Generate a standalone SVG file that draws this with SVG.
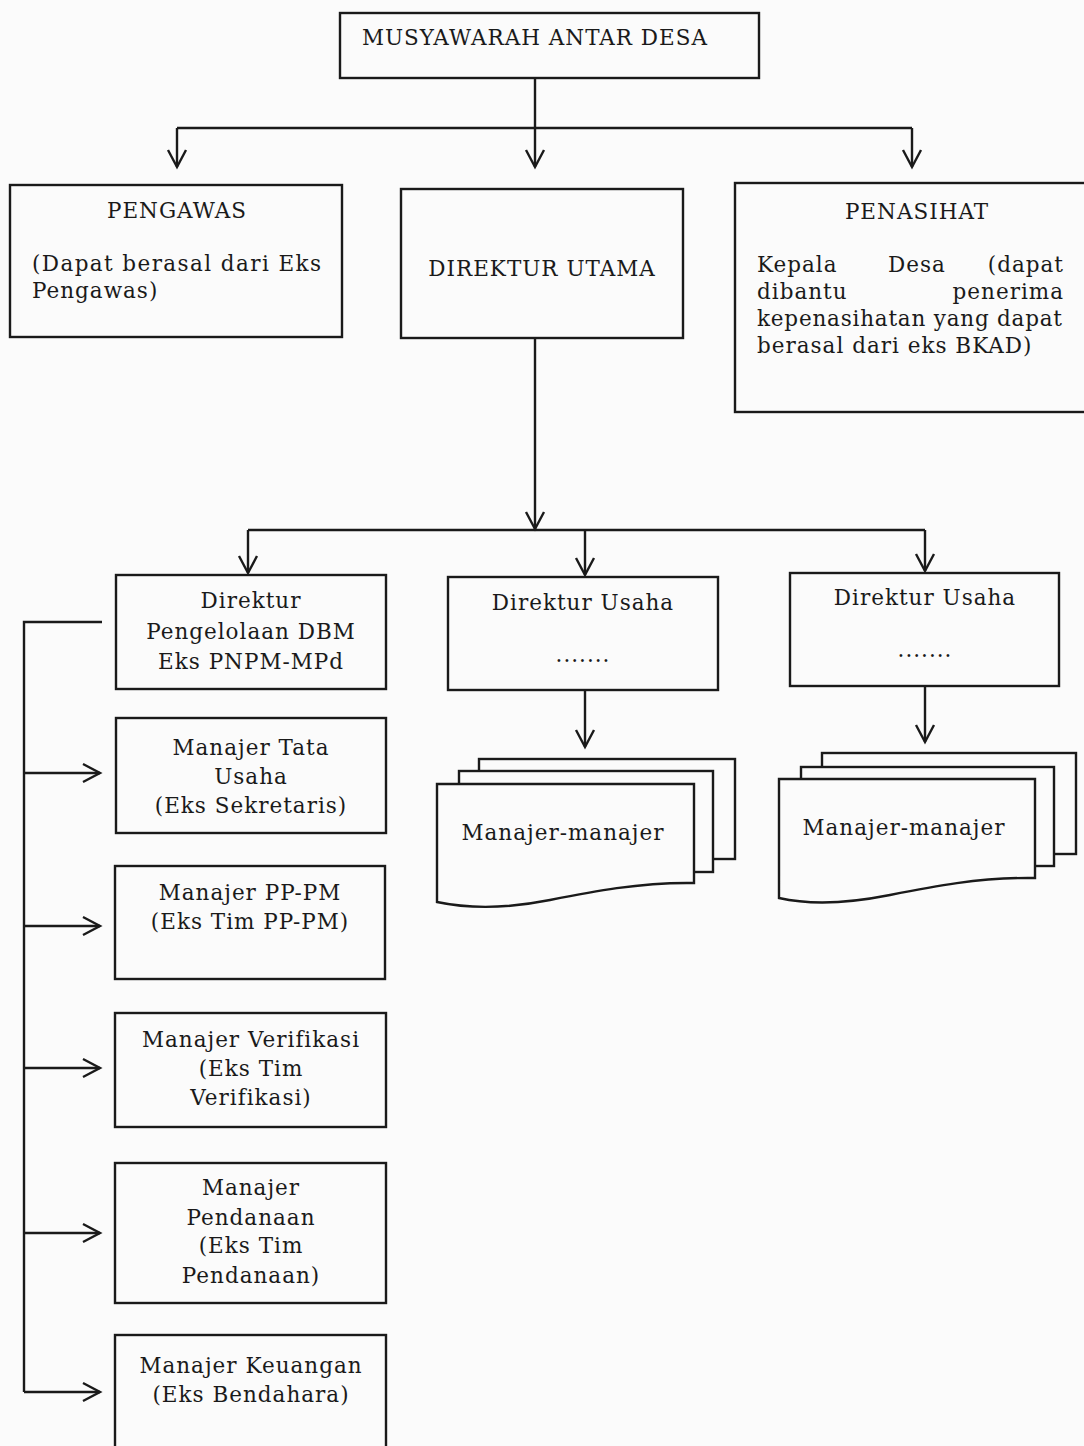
<svg xmlns="http://www.w3.org/2000/svg" width="1084" height="1446" viewBox="0 0 1084 1446">
<defs>
<style>
.box{fill:#fbfbfb;stroke:#1a1a1a;stroke-width:2.4}
.ln{fill:none;stroke:#1a1a1a;stroke-width:2.4}
text{font-family:"DejaVu Serif","Liberation Serif",serif;font-size:21.5px;fill:#1a1a1a;letter-spacing:1px}
.c{text-anchor:middle}
.e{text-anchor:end}
</style>
<marker id="ah" markerUnits="userSpaceOnUse" markerWidth="40" markerHeight="40" viewBox="-20 -20 40 40" refX="0" refY="0" orient="auto" overflow="visible">
<path d="M-17,-9 L0,0 L-17,9" fill="none" stroke="#1a1a1a" stroke-width="2.4"/>
</marker>
</defs>
<rect width="1084" height="1446" fill="#fbfbfb"/>

<g id="connectors">
<path class="ln" d="M535,78 V167" marker-end="url(#ah)"/>
<path class="ln" d="M177,128 H912"/>
<path class="ln" d="M177,128 V167" marker-end="url(#ah)"/>
<path class="ln" d="M912,128 V167" marker-end="url(#ah)"/>
<path class="ln" d="M535,338 V529" marker-end="url(#ah)"/>
<path class="ln" d="M248,530 H925"/>
<path class="ln" d="M248,530 V573" marker-end="url(#ah)"/>
<path class="ln" d="M585,530 V575" marker-end="url(#ah)"/>
<path class="ln" d="M925,530 V571" marker-end="url(#ah)"/>
<path class="ln" d="M585,690 V747" marker-end="url(#ah)"/>
<path class="ln" d="M925,686 V742" marker-end="url(#ah)"/>
<path class="ln" d="M102,622 H24 V1392"/>
<path class="ln" d="M24,773 H100" marker-end="url(#ah)"/>
<path class="ln" d="M24,926 H100" marker-end="url(#ah)"/>
<path class="ln" d="M24,1068 H100" marker-end="url(#ah)"/>
<path class="ln" d="M24,1233 H100" marker-end="url(#ah)"/>
<path class="ln" d="M24,1392 H100" marker-end="url(#ah)"/>
</g>

<g id="musyawarah">
<rect class="box" x="340" y="13" width="419" height="65"/>
<text class="c" x="535" y="45">MUSYAWARAH ANTAR DESA</text>
</g>

<g id="pengawas">
<rect class="box" x="10" y="185" width="332" height="152"/>
<text class="c" x="177" y="218">PENGAWAS</text>
<text x="32" y="271" textLength="290" lengthAdjust="spacing">(Dapat berasal dari Eks</text>
<text x="32" y="298">Pengawas)</text>
</g>

<g id="direktur-utama">
<rect class="box" x="401" y="189" width="282" height="149"/>
<text class="c" x="542" y="276">DIREKTUR UTAMA</text>
</g>

<g id="penasihat">
<rect class="box" x="735" y="183" width="360" height="229"/>
<text class="c" x="917" y="219">PENASIHAT</text>
<text x="757" y="272">Kepala</text>
<text x="888" y="272">Desa</text>
<text class="e" x="1064" y="272">(dapat</text>
<text x="757" y="299">dibantu</text>
<text class="e" x="1064" y="299">penerima</text>
<text x="757" y="326" textLength="306" lengthAdjust="spacing">kepenasihatan yang dapat</text>
<text x="757" y="353">berasal dari eks BKAD)</text>
</g>

<g id="direktur-dbm">
<rect class="box" x="116" y="575" width="270" height="114"/>
<text class="c" x="251" y="608">Direktur</text>
<text class="c" x="251" y="639">Pengelolaan DBM</text>
<text class="c" x="251" y="669">Eks PNPM-MPd</text>
</g>

<g id="manajer-tata-usaha">
<rect class="box" x="116" y="718" width="270" height="115"/>
<text class="c" x="251" y="755">Manajer Tata</text>
<text class="c" x="251" y="784">Usaha</text>
<text class="c" x="251" y="813">(Eks Sekretaris)</text>
</g>

<g id="manajer-pp-pm">
<rect class="box" x="115" y="866" width="270" height="113"/>
<text class="c" x="250" y="900">Manajer PP-PM</text>
<text class="c" x="250" y="929">(Eks Tim PP-PM)</text>
</g>

<g id="manajer-verifikasi">
<rect class="box" x="115" y="1013" width="271" height="114"/>
<text class="c" x="251" y="1047">Manajer Verifikasi</text>
<text class="c" x="251" y="1076">(Eks Tim</text>
<text class="c" x="251" y="1105">Verifikasi)</text>
</g>

<g id="manajer-pendanaan">
<rect class="box" x="115" y="1163" width="271" height="140"/>
<text class="c" x="251" y="1195">Manajer</text>
<text class="c" x="251" y="1225">Pendanaan</text>
<text class="c" x="251" y="1253">(Eks Tim</text>
<text class="c" x="251" y="1283">Pendanaan)</text>
</g>

<g id="manajer-keuangan">
<rect class="box" x="115" y="1335" width="271" height="130"/>
<text class="c" x="251" y="1373">Manajer Keuangan</text>
<text class="c" x="251" y="1402">(Eks Bendahara)</text>
</g>

<g id="direktur-usaha-1">
<rect class="box" x="448" y="577" width="270" height="113"/>
<text class="c" x="583" y="610">Direktur Usaha</text>
<text class="c" x="583" y="662">.......</text>
</g>

<g id="direktur-usaha-2">
<rect class="box" x="790" y="573" width="269" height="113"/>
<text class="c" x="925" y="605">Direktur Usaha</text>
<text class="c" x="925" y="657">.......</text>
</g>

<g id="manajer-manajer-1">
<rect class="box" x="479" y="759" width="256" height="100"/>
<rect class="box" x="459" y="771" width="254" height="101"/>
<path class="box" d="M437,784 H694 V883 C640,882 590,892 550,900 C510,908 470,909 437,902 Z"/>
<text class="c" x="563" y="840">Manajer-manajer</text>
</g>

<g id="manajer-manajer-2">
<rect class="box" x="822" y="753" width="254" height="101"/>
<rect class="box" x="801" y="767" width="253" height="99"/>
<path class="box" d="M779,779 H1035 V878 C980,877 930,887 890,895 C850,903 810,905 779,898 Z"/>
<text class="c" x="904" y="835">Manajer-manajer</text>
</g>
</svg>
